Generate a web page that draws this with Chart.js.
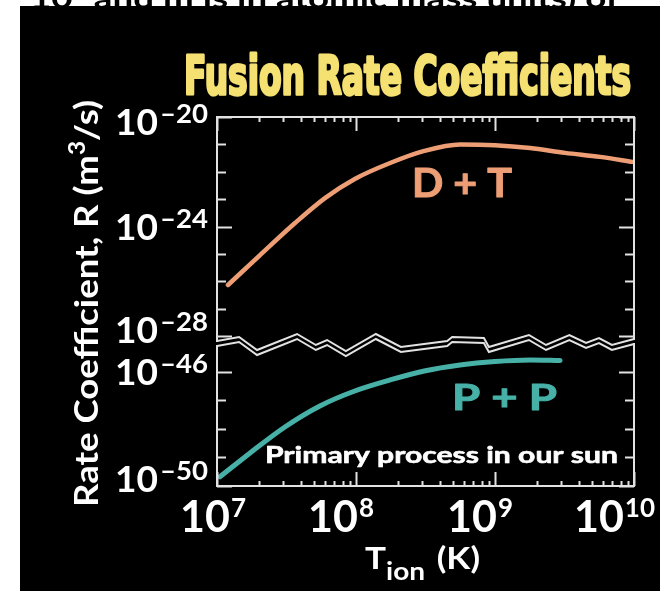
<!DOCTYPE html>
<html>
<head>
<meta charset="utf-8">
<title>Fusion Rate Coefficients</title>
<script src="https://cdn.jsdelivr.net/npm/chart.js@4.4.1/dist/chart.umd.min.js"></script>
<style>
  html, body { margin: 0; padding: 0; background: #ffffff; }
  canvas { display: block; }
</style>
</head>
<body>
<canvas id="chart" width="660" height="591"></canvas>
<script>
// D + T reaction: ion temperature (K) and rate coefficient (m^3/s)
const dtTemperature = [1.2e7, 2.04e7, 3.64e7, 5.98e7, 9.8e7, 1.76e8, 3.1e8, 5.6e8, 1.0e9, 1.79e9, 3.19e9, 5.7e9, 9.8e9];
const dtRate        = [7.4e-27, 9.1e-26, 1.35e-24, 1.1e-23, 5.5e-23, 2.1e-22, 5.8e-22, 1.0e-21, 9.4e-22, 7.4e-22, 4.9e-22, 3.5e-22, 2.3e-22];

// P + P reaction (primary process in the sun)
const ppTemperature = [1.05e7, 1.73e7, 3.08e7, 5.5e7, 9.8e7, 1.76e8, 3.1e8, 5.6e8, 1.0e9, 1.79e9, 2.94e9];
const ppRate        = [2.1e-50, 1.43e-49, 1.16e-48, 6.3e-48, 2.1e-47, 5.1e-47, 1.05e-46, 1.7e-46, 2.25e-46, 2.55e-46, 2.45e-46];

// Tick decades (powers of ten)
const xTickExponents      = [7, 8, 9, 10];
const upperTickExponents  = [-20, -21, -22, -23, -24, -25, -26, -27, -28];
const upperLabelExponents = [-20, -24, -28];
const lowerTickExponents  = [-46, -47, -48, -49, -50];
const lowerLabelExponents = [-46, -50];

const TITLE = 'Fusion Rate Coefficients';
const DT_LABEL = 'D + T';
const PP_LABEL = 'P + P';
const NOTE = 'Primary process in our sun';

const COLOR_DT = '#ee9e75';
const COLOR_PP = '#47b1a8';
const COLOR_TITLE = '#f5e072';
const COLOR_FRAME = '#e2e2e2';

// Pixel heights of one decade in each panel of the broken axis
const UPPER_DECADE_PX = 27.4;
const LOWER_DECADE_PX = 28.6;
const PAD = { left: 217, top: 117, right: 26, bottom: 105 };
const PLOT_H = 591 - PAD.top - PAD.bottom;

const LABEL_FONT = 'Lato, "DejaVu Sans", sans-serif';

function drawRuns(ctx, runs, x, y, targetWidth, align) {
  let total = 0;
  runs.forEach(r => { ctx.font = r.font; r.w = ctx.measureText(r.text).width; total += r.w + (r.gap || 0); });
  const sx = targetWidth ? targetWidth / total : 1;
  const width = total * sx;
  let start = x;
  if (align === 'right') start = x - width;
  else if (align === 'center') start = x - width / 2;
  ctx.save();
  ctx.translate(start, y);
  ctx.scale(sx, 1);
  ctx.textAlign = 'left';
  ctx.textBaseline = 'alphabetic';
  let cx = 0;
  runs.forEach(r => {
    ctx.font = r.font;
    ctx.fillStyle = r.color;
    ctx.fillText(r.text, cx, r.dy || 0);
    if (r.stroke) {
      ctx.strokeStyle = r.color;
      ctx.lineWidth = r.stroke;
      ctx.lineJoin = 'round';
      ctx.strokeText(r.text, cx, r.dy || 0);
    }
    cx += r.w + (r.gap || 0);
  });
  ctx.restore();
  return width;
}

function supDigits(e) {
  return e < 0 ? '\u2013' + Math.abs(e) : String(e);
}

// Break marks between the two panels, as fractions of the plot width and
// pixel offsets from the top of the break band
const BREAK_SHAPE = [
  [0.000, 4], [0.053, 0], [0.096, 13], [0.192, -3], [0.237, 8], [0.264, 3],
  [0.309, 14], [0.381, -3], [0.441, 10], [0.552, 4], [0.564, 0], [0.640, 1],
  [0.652, 10], [0.748, -2], [0.789, 8], [0.845, -2], [0.885, 6], [0.916, 1],
  [0.947, 8], [1.000, 2]
];
const BREAK_TOP = 337;
const BREAK_GAP = 5;

const brokenAxisPlugin = {
  id: 'brokenAxis',
  beforeDraw(chart) {
    const ctx = chart.ctx;
    ctx.save();
    ctx.fillStyle = '#ffffff';
    ctx.fillRect(0, 0, chart.width, chart.height);
    // running text from the page above, mostly cut off
    drawRuns(ctx, [{ text: '10\u00b9 and m is in atomic mass units) of', font: 'bold 26px ' + LABEL_FONT, color: '#000000' }], 30, 8, 589, 'left');
    ctx.fillStyle = '#000000';
    ctx.fillRect(20, 6, chart.width - 20, chart.height - 6);
    ctx.restore();
  },
  afterDatasetsDraw(chart) {
    const ctx = chart.ctx;
    const area = chart.chartArea;
    const L = area.left, R = area.right, T = area.top, B = area.bottom;
    const xs = chart.scales.x, yUp = chart.scales.yUp, yLow = chart.scales.yLow;

    const upperLine = BREAK_SHAPE.map(([f, d]) => [L + f * (R - L), BREAK_TOP + d]);
    const lowerLine = upperLine.map(([x, y]) => [x, y + BREAK_GAP]);

    ctx.save();
    // black band between the break marks
    ctx.beginPath();
    upperLine.forEach(([x, y], i) => i ? ctx.lineTo(x, y) : ctx.moveTo(x, y));
    for (let i = lowerLine.length - 1; i >= 0; i--) ctx.lineTo(lowerLine[i][0], lowerLine[i][1]);
    ctx.closePath();
    ctx.fillStyle = '#000000';
    ctx.fill();

    ctx.strokeStyle = COLOR_FRAME;
    ctx.lineWidth = 2;
    ctx.lineJoin = 'miter';
    ctx.lineCap = 'square';
    // upper panel frame
    ctx.beginPath();
    ctx.moveTo(L, upperLine[0][1]);
    ctx.lineTo(L, T);
    ctx.lineTo(R, T);
    ctx.lineTo(R, upperLine[upperLine.length - 1][1]);
    ctx.stroke();
    // lower panel frame
    ctx.beginPath();
    ctx.moveTo(L, lowerLine[0][1]);
    ctx.lineTo(L, B);
    ctx.lineTo(R, B);
    ctx.lineTo(R, lowerLine[lowerLine.length - 1][1]);
    ctx.stroke();
    // break marks
    ctx.lineWidth = 2;
    ctx.lineCap = 'butt';
    [upperLine, lowerLine].forEach(line => {
      ctx.beginPath();
      line.forEach(([x, y], i) => i ? ctx.lineTo(x, y) : ctx.moveTo(x, y));
      ctx.stroke();
    });

    // x ticks: decades long, 2..9 short, on top and bottom edges
    ctx.lineWidth = 2;
    ctx.beginPath();
    for (let k = 0; k < xTickExponents.length; k++) {
      const e = xTickExponents[k];
      const mults = k < xTickExponents.length - 1 ? [1, 2, 3, 4, 5, 6, 7, 8, 9] : [1];
      mults.forEach(m => {
        const px = Math.round(xs.getPixelForValue(m * Math.pow(10, e))) + 0.5;
        const len = m === 1 ? 14 : 5;
        ctx.moveTo(px, T); ctx.lineTo(px, T + len);
        ctx.moveTo(px, B); ctx.lineTo(px, B - len);
      });
    }
    ctx.stroke();

    // y ticks on both panels, left and right edges
    const yTick = (scale, e, labelled) => {
      const py = Math.round(scale.getPixelForValue(Math.pow(10, e))) + 0.5;
      const len = labelled ? 15 : 9;
      ctx.moveTo(L, py); ctx.lineTo(L + len, py);
      ctx.moveTo(R, py); ctx.lineTo(R - len, py);
    };
    ctx.beginPath();
    upperTickExponents.forEach(e => yTick(yUp, e, upperLabelExponents.includes(e)));
    lowerTickExponents.forEach(e => yTick(yLow, e, lowerLabelExponents.includes(e)));
    ctx.stroke();

    // y tick labels: 10 with superscript exponent
    const mainFont = 'bold 36px ' + LABEL_FONT;
    const supFont = 'bold 26px ' + LABEL_FONT;
    const yLabel = (scale, e, shift) => {
      const cy = scale.getPixelForValue(Math.pow(10, e)) + shift;
      drawRuns(ctx, [{ text: supDigits(e), font: supFont, color: '#ffffff' }], 208, cy + 1, 48, 'right');
      drawRuns(ctx, [{ text: '10', font: mainFont, color: '#ffffff' }], 158, cy + 13, 43, 'right');
    };
    upperLabelExponents.forEach((e, i) => {
      const shift = i === 0 ? 5 : (i === upperLabelExponents.length - 1 ? -6 : 0);
      yLabel(yUp, e, shift);
    });
    lowerLabelExponents.forEach((e, i) => {
      const shift = i === lowerLabelExponents.length - 1 ? -7 : 0;
      yLabel(yLow, e, shift);
    });

    // x tick labels
    const xMain = 'bold 43px ' + LABEL_FONT;
    const xSup = 'bold 26px ' + LABEL_FONT;
    xTickExponents.forEach(e => {
      const px = xs.getPixelForValue(Math.pow(10, e));
      ctx.font = xMain;
      const mw = ctx.measureText('10').width;
      ctx.font = xSup;
      const sw = ctx.measureText(String(e)).width;
      const total = mw + 1 + sw;
      let left = px - 15 - total / 2;
      if (left < 180) left = 180;
      if (left + total > 655) left = 655 - total;
      drawRuns(ctx, [
        { text: '10', font: xMain, color: '#ffffff', gap: 1 },
        { text: String(e), font: xSup, color: '#ffffff', dy: -15 }
      ], left, 532, null, 'left');
    });

    // x axis title: T_ion (K)
    drawRuns(ctx, [
      { text: 'T', font: 'bold 30px ' + LABEL_FONT, color: '#ffffff', gap: 0 },
      { text: 'ion', font: 'bold 24px ' + LABEL_FONT, color: '#ffffff', dy: 11, gap: 10 },
      { text: '(K)', font: 'bold 30px ' + LABEL_FONT, color: '#ffffff', dy: 0 }
    ], 365, 569, 115, 'left');

    // y axis title, rotated
    ctx.save();
    ctx.translate(98, 507);
    ctx.rotate(-Math.PI / 2);
    drawRuns(ctx, [
      { text: 'Rate Coefficient, R (m', font: 'bold 33px ' + LABEL_FONT, color: '#ffffff' },
      { text: '3', font: 'bold 22px ' + LABEL_FONT, color: '#ffffff', dy: -13 },
      { text: '/s)', font: 'bold 33px ' + LABEL_FONT, color: '#ffffff' }
    ], 0, 0, 407, 'left');
    ctx.restore();

    // title: heavy condensed lettering
    drawRuns(ctx, [{ text: TITLE, font: 'bold 54px "Liberation Sans Narrow", "DejaVu Sans Condensed", sans-serif', color: COLOR_TITLE, stroke: 3 }], 184, 94, 447, 'left');

    // curve labels and note
    drawRuns(ctx, [{ text: DT_LABEL, font: 'bold 40px ' + LABEL_FONT, color: COLOR_DT, stroke: 1 }], 412, 197, 100, 'left');
    drawRuns(ctx, [{ text: PP_LABEL, font: 'bold 37px ' + LABEL_FONT, color: COLOR_PP, stroke: 1 }], 452, 410, 105, 'left');
    drawRuns(ctx, [{ text: NOTE, font: 'bold 22px ' + LABEL_FONT, color: '#ffffff', stroke: 0.6 }], 265, 463, 353, 'left');

    ctx.restore();
  }
};

const dtPoints = dtTemperature.map((t, i) => ({ x: t, y: dtRate[i] }));
const ppPoints = ppTemperature.map((t, i) => ({ x: t, y: ppRate[i] }));

new Chart(document.getElementById('chart'), {
  type: 'line',
  data: {
    datasets: [
      {
        label: DT_LABEL,
        data: dtPoints,
        yAxisID: 'yUp',
        borderColor: COLOR_DT,
        borderWidth: 4.5,
        borderCapStyle: 'round',
        pointRadius: 0,
        cubicInterpolationMode: 'monotone',
        fill: false
      },
      {
        label: PP_LABEL,
        data: ppPoints,
        yAxisID: 'yLow',
        borderColor: COLOR_PP,
        borderWidth: 5,
        borderCapStyle: 'round',
        pointRadius: 0,
        cubicInterpolationMode: 'monotone',
        fill: false
      }
    ]
  },
  options: {
    responsive: false,
    animation: false,
    devicePixelRatio: 1,
    layout: { padding: PAD },
    plugins: { legend: { display: false }, tooltip: { enabled: false }, title: { display: false } },
    scales: {
      x: { type: 'logarithmic', min: 1e7, max: 1e10, display: false },
      yUp: {
        type: 'logarithmic',
        max: 1e-20,
        min: Math.pow(10, -20 - PLOT_H / UPPER_DECADE_PX),
        display: false
      },
      yLow: {
        type: 'logarithmic',
        min: 1e-50,
        max: Math.pow(10, -50 + PLOT_H / LOWER_DECADE_PX),
        display: false
      }
    }
  },
  plugins: [brokenAxisPlugin]
});
</script>
</body>
</html>
